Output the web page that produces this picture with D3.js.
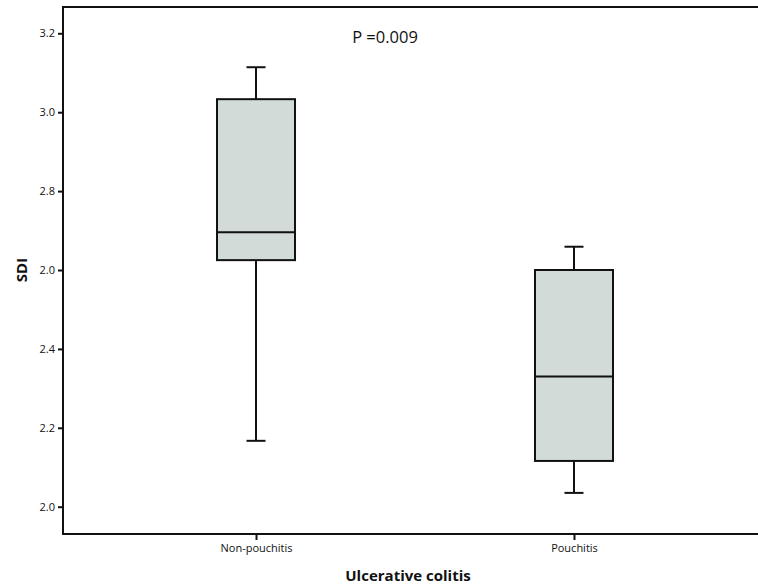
<!DOCTYPE html>
<html>
<head>
<meta charset="utf-8">
<script src="https://cdn.jsdelivr.net/npm/d3@7"></script>
<style>
  html, body { margin: 0; padding: 0; background: #fff; }
  svg { display: block; }
  text { font-family: "Open Sans", "DejaVu Sans", sans-serif; fill: #111; }
</style>
</head>
<body>
<svg id="chart" width="758" height="586"></svg>
<script>
// ---- data ----
const categories = ["Non-pouchitis", "Pouchitis"];
const whiskerLow  = [2.167, 2.035];
const q1Values    = [2.625, 2.116];
const medians     = [2.696, 2.33];
const q3Values    = [3.033, 2.600];
const whiskerHigh = [3.114, 2.659];
const yTickValues = [2.0, 2.2, 2.4, 2.6, 2.8, 3.0, 3.2];
const yTickLabels = ["2.0", "2.2", "2.4", "2.0", "2.8", "3.0", "3.2"];
const yTitle = "SDI";
const xTitle = "Ulcerative colitis";
const annotation = "P =0.009";

// ---- layout ----
const svg = d3.select("#chart");
const mLeft = 63, mRight = 767, mTop = 7, mBottom = 534;

const y = d3.scaleLinear().domain([2.0, 3.2]).range([506.7, 33.3]);
const x = d3.scalePoint().domain(categories).range([mLeft, mRight]).padding(0.607);
const boxW = 78, capW = 19;

const boxes = categories.map((c, i) => ({
  c, lo: whiskerLow[i], q1: q1Values[i], med: medians[i], q3: q3Values[i], hi: whiskerHigh[i]
}));

// whiskers and boxes
const g = svg.append("g");
boxes.forEach(b => {
  const cx = x(b.c);
  g.append("line").attr("x1", cx).attr("x2", cx).attr("y1", y(b.hi)).attr("y2", y(b.q3))
    .attr("stroke", "#111").attr("stroke-width", 2);
  g.append("line").attr("x1", cx).attr("x2", cx).attr("y1", y(b.q1)).attr("y2", y(b.lo))
    .attr("stroke", "#111").attr("stroke-width", 2);
  g.append("line").attr("x1", cx - capW / 2).attr("x2", cx + capW / 2).attr("y1", y(b.hi)).attr("y2", y(b.hi))
    .attr("stroke", "#111").attr("stroke-width", 2);
  g.append("line").attr("x1", cx - capW / 2).attr("x2", cx + capW / 2).attr("y1", y(b.lo)).attr("y2", y(b.lo))
    .attr("stroke", "#111").attr("stroke-width", 2);
  g.append("rect").attr("x", cx - boxW / 2).attr("width", boxW)
    .attr("y", y(b.q3)).attr("height", y(b.q1) - y(b.q3))
    .attr("fill", "#d3dbd8").attr("stroke", "#111").attr("stroke-width", 2);
  g.append("line").attr("x1", cx - boxW / 2).attr("x2", cx + boxW / 2).attr("y1", y(b.med)).attr("y2", y(b.med))
    .attr("stroke", "#111").attr("stroke-width", 2);
});

// frame (open to the right edge, as in the reference)
svg.append("path")
  .attr("d", `M${mRight},${mTop}H${mLeft}V${mBottom}H${mRight}`)
  .attr("fill", "none").attr("stroke", "#111").attr("stroke-width", 2);

// y axis
const yAxis = d3.axisLeft(y).tickValues(yTickValues).tickSize(5).tickPadding(3)
  .tickFormat((d, i) => yTickLabels[i]);
const ya = svg.append("g").attr("transform", `translate(${mLeft},0)`).call(yAxis);
ya.select(".domain").remove();
ya.selectAll(".tick line").attr("stroke", "#111").attr("stroke-width", 2);
ya.selectAll(".tick text").attr("font-size", 11).attr("font-family", "'Open Sans', sans-serif").attr("fill", "#222");

// x axis
const xAxis = d3.axisBottom(x).tickSize(6).tickPadding(4);
const xa = svg.append("g").attr("transform", `translate(0,${mBottom})`).call(xAxis);
xa.select(".domain").remove();
xa.selectAll(".tick line").attr("stroke", "#111").attr("stroke-width", 2);
xa.selectAll(".tick text").attr("font-size", 11).attr("font-family", "'Open Sans', sans-serif").attr("fill", "#222");

// titles
svg.append("text").attr("transform", "translate(27,270) rotate(-90)")
  .attr("text-anchor", "middle").attr("font-size", 15).attr("font-weight", "bold").text(yTitle);
svg.append("text").attr("x", 408).attr("y", 581)
  .attr("text-anchor", "middle").attr("font-size", 15).attr("font-weight", "bold").text(xTitle);
svg.append("text").attr("x", 385).attr("y", 43)
  .attr("text-anchor", "middle").attr("font-size", 16.5).text(annotation);
</script>
</body>
</html>
